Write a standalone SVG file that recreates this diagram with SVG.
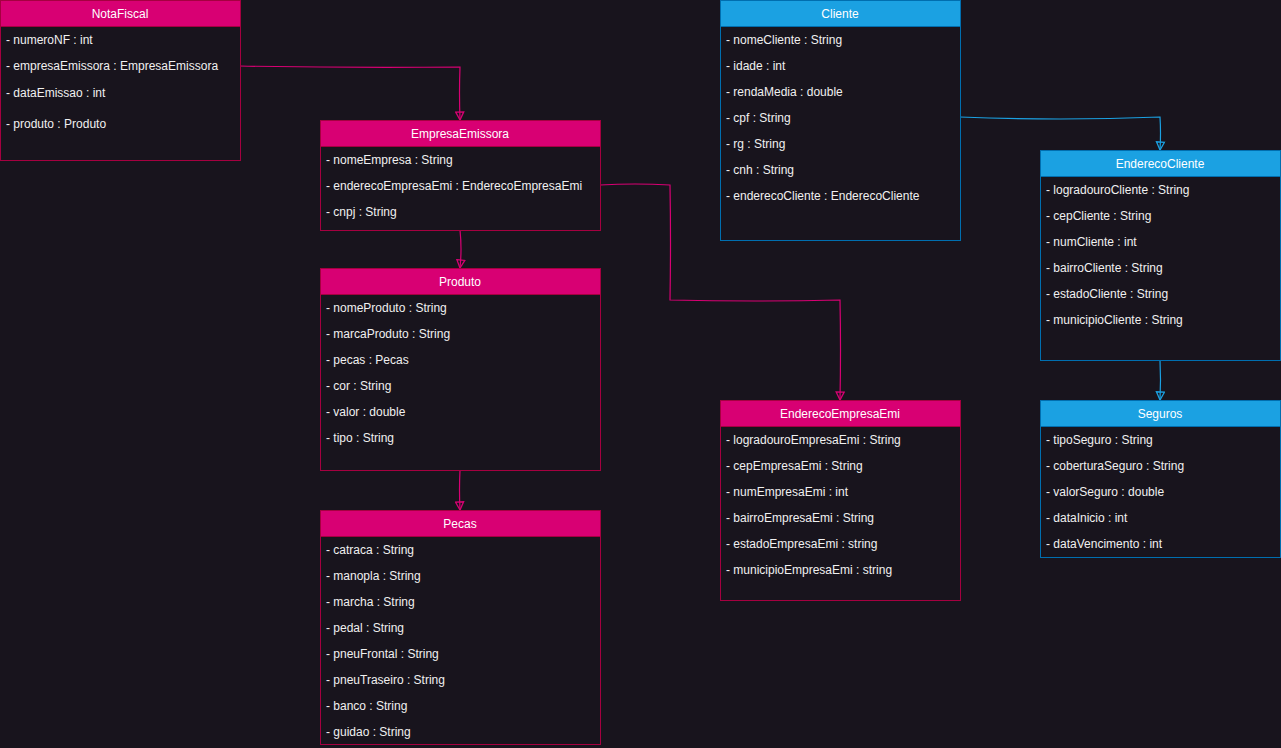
<svg xmlns="http://www.w3.org/2000/svg" width="1281" height="748" viewBox="0 0 1281 748">
  <defs>
    <style>
      .bg { fill: #18141d; }
      .body { fill: #18141d; stroke-width: 1; }
      .pink .body, .pink .head { stroke: #a50040; }
      .pink .head { fill: #d80073; }
      .blue .body, .blue .head { stroke: #006eaf; }
      .blue .head { fill: #1ba1e2; }
      .title { font-family: "Liberation Sans", Arial, sans-serif; font-size: 12px; fill: #ffffff; text-anchor: middle; }
      .attr { font-family: "Liberation Sans", Arial, sans-serif; font-size: 12px; fill: #f0f0f0; }
      .edge { fill: none; stroke-width: 1.2; }
      .ep { stroke: #d80073; }
      .eb { stroke: #1ba1e2; }
    </style>
    <!-- open triangle arrowheads, drawn along +x so orient="auto" follows the line -->
    <marker id="arrP" viewBox="0 0 10 10" refX="9" refY="5" markerWidth="10" markerHeight="10" markerUnits="userSpaceOnUse" orient="auto">
      <path d="M1,1 L9,5 L1,9 Z" fill="none" stroke="#d80073" stroke-width="1.3"/>
    </marker>
    <marker id="arrB" viewBox="0 0 10 10" refX="9" refY="5" markerWidth="10" markerHeight="10" markerUnits="userSpaceOnUse" orient="auto">
      <path d="M1,1 L9,5 L1,9 Z" fill="none" stroke="#1ba1e2" stroke-width="1.3"/>
    </marker>
  </defs>

  <rect class="bg" x="0" y="0" width="1281" height="748"/>

  <!-- connectors -->
  <g id="connectors">
    <path class="edge ep" d="M240,66 Q350,68 460,67 Q459,92 460,120" marker-end="url(#arrP)"/>
    <path class="edge ep" d="M600,185 Q635,183 670,185 Q671,242 670,300 Q755,302 840,300 Q841,350 840,400" marker-end="url(#arrP)"/>
    <path class="edge ep" d="M460,230 Q462,249 460,268" marker-end="url(#arrP)"/>
    <path class="edge ep" d="M460,470 Q459,490 460,510" marker-end="url(#arrP)"/>
    <path class="edge eb" d="M960,117 Q1060,121 1160,117 Q1161,133 1160,150" marker-end="url(#arrB)"/>
    <path class="edge eb" d="M1160,360 Q1161,380 1160,400" marker-end="url(#arrB)"/>
  </g>

  <g id="NotaFiscal" class="pink">
    <rect class="body" x="0.5" y="0.5" width="240" height="160"/>
    <rect class="head" x="0.5" y="0.5" width="240" height="26"/>
    <text class="title" x="120" y="18">NotaFiscal</text>
    <text class="attr" x="6" y="44">- numeroNF : int</text>
    <text class="attr" x="6" y="70">- empresaEmissora : EmpresaEmissora</text>
    <text class="attr" x="6" y="97">- dataEmissao : int</text>
    <text class="attr" x="6" y="128">- produto : Produto</text>
  </g>

  <g id="EmpresaEmissora" class="pink">
    <rect class="body" x="320.5" y="120.5" width="280" height="110"/>
    <rect class="head" x="320.5" y="120.5" width="280" height="26"/>
    <text class="title" x="460" y="138">EmpresaEmissora</text>
    <text class="attr" x="326" y="164">- nomeEmpresa : String</text>
    <text class="attr" x="326" y="190">- enderecoEmpresaEmi : EnderecoEmpresaEmi</text>
    <text class="attr" x="326" y="216">- cnpj : String</text>
  </g>

  <g id="Produto" class="pink">
    <rect class="body" x="320.5" y="268.5" width="280" height="202"/>
    <rect class="head" x="320.5" y="268.5" width="280" height="26"/>
    <text class="title" x="460" y="286">Produto</text>
    <text class="attr" x="326" y="312">- nomeProduto : String</text>
    <text class="attr" x="326" y="338">- marcaProduto : String</text>
    <text class="attr" x="326" y="364">- pecas : Pecas</text>
    <text class="attr" x="326" y="390">- cor : String</text>
    <text class="attr" x="326" y="416">- valor : double</text>
    <text class="attr" x="326" y="442">- tipo : String</text>
  </g>

  <g id="Pecas" class="pink">
    <rect class="body" x="320.5" y="510.5" width="280" height="234"/>
    <rect class="head" x="320.5" y="510.5" width="280" height="26"/>
    <text class="title" x="460" y="528">Pecas</text>
    <text class="attr" x="326" y="554">- catraca : String</text>
    <text class="attr" x="326" y="580">- manopla : String</text>
    <text class="attr" x="326" y="606">- marcha : String</text>
    <text class="attr" x="326" y="632">- pedal : String</text>
    <text class="attr" x="326" y="658">- pneuFrontal : String</text>
    <text class="attr" x="326" y="684">- pneuTraseiro : String</text>
    <text class="attr" x="326" y="710">- banco : String</text>
    <text class="attr" x="326" y="736">- guidao : String</text>
  </g>

  <g id="EnderecoEmpresaEmi" class="pink">
    <rect class="body" x="720.5" y="400.5" width="240" height="200"/>
    <rect class="head" x="720.5" y="400.5" width="240" height="26"/>
    <text class="title" x="840" y="418">EnderecoEmpresaEmi</text>
    <text class="attr" x="726" y="444">- logradouroEmpresaEmi : String</text>
    <text class="attr" x="726" y="470">- cepEmpresaEmi : String</text>
    <text class="attr" x="726" y="496">- numEmpresaEmi : int</text>
    <text class="attr" x="726" y="522">- bairroEmpresaEmi : String</text>
    <text class="attr" x="726" y="548">- estadoEmpresaEmi : string</text>
    <text class="attr" x="726" y="574">- municipioEmpresaEmi : string</text>
  </g>

  <g id="Cliente" class="blue">
    <rect class="body" x="720.5" y="0.5" width="240" height="240"/>
    <rect class="head" x="720.5" y="0.5" width="240" height="26"/>
    <text class="title" x="840" y="18">Cliente</text>
    <text class="attr" x="726" y="44">- nomeCliente : String</text>
    <text class="attr" x="726" y="70">- idade : int</text>
    <text class="attr" x="726" y="96">- rendaMedia : double</text>
    <text class="attr" x="726" y="122">- cpf : String</text>
    <text class="attr" x="726" y="148">- rg : String</text>
    <text class="attr" x="726" y="174">- cnh : String</text>
    <text class="attr" x="726" y="200">- enderecoCliente : EnderecoCliente</text>
  </g>

  <g id="EnderecoCliente" class="blue">
    <rect class="body" x="1040.5" y="150.5" width="240" height="210"/>
    <rect class="head" x="1040.5" y="150.5" width="240" height="26"/>
    <text class="title" x="1160" y="168">EnderecoCliente</text>
    <text class="attr" x="1046" y="194">- logradouroCliente : String</text>
    <text class="attr" x="1046" y="220">- cepCliente : String</text>
    <text class="attr" x="1046" y="246">- numCliente : int</text>
    <text class="attr" x="1046" y="272">- bairroCliente : String</text>
    <text class="attr" x="1046" y="298">- estadoCliente : String</text>
    <text class="attr" x="1046" y="324">- municipioCliente : String</text>
  </g>

  <g id="Seguros" class="blue">
    <rect class="body" x="1040.5" y="400.5" width="240" height="157"/>
    <rect class="head" x="1040.5" y="400.5" width="240" height="26"/>
    <text class="title" x="1160" y="418">Seguros</text>
    <text class="attr" x="1046" y="444">- tipoSeguro : String</text>
    <text class="attr" x="1046" y="470">- coberturaSeguro : String</text>
    <text class="attr" x="1046" y="496">- valorSeguro : double</text>
    <text class="attr" x="1046" y="522">- dataInicio : int</text>
    <text class="attr" x="1046" y="548">- dataVencimento : int</text>
  </g>
</svg>
